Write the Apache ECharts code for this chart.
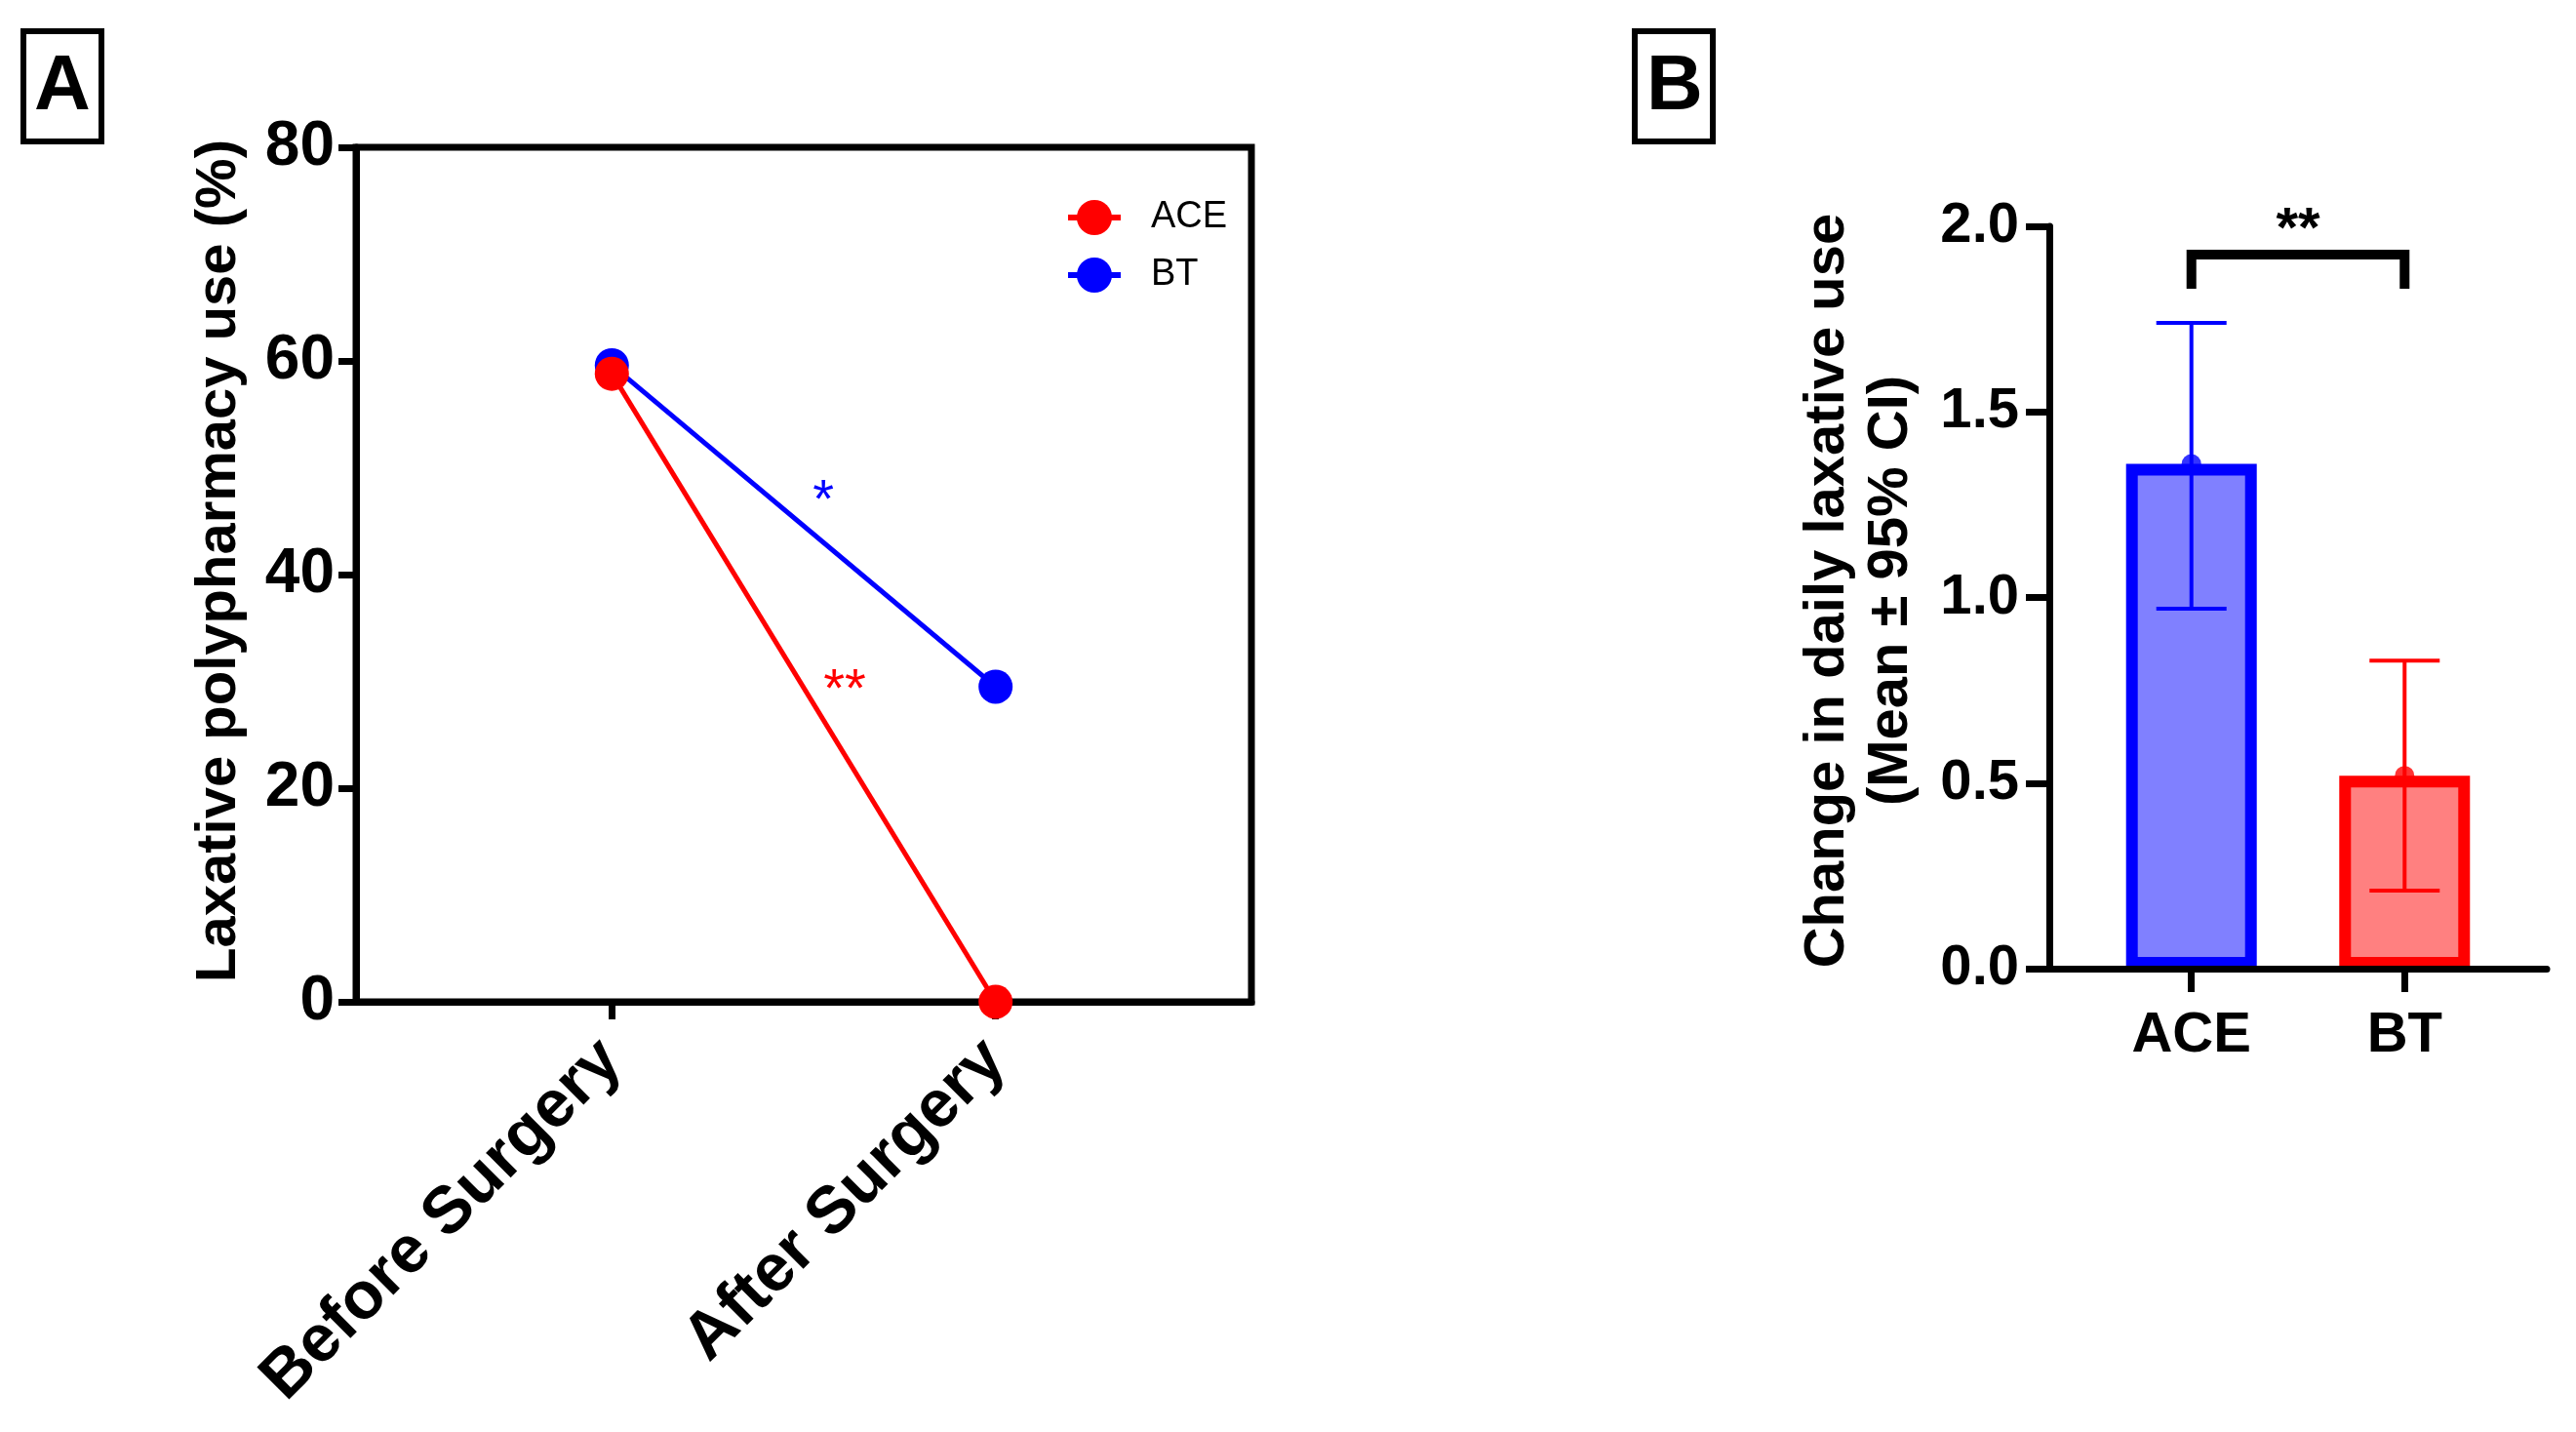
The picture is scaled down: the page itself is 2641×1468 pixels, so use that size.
<!DOCTYPE html>
<html>
<head>
<meta charset="utf-8">
<script src="https://cdn.jsdelivr.net/npm/echarts@6/dist/echarts.min.js"></script>
<style>
html, body { margin: 0; padding: 0; background: #fff; }
#main { width: 2641px; height: 1468px; }
</style>
</head>
<body>
<div id="main"></div>
<script>
var FONT = "'Liberation Sans', Arial, sans-serif";

// panel A: laxative polypharmacy use (%)
var stageNames = ['Before Surgery', 'After Surgery'];
var aceUse = [58.8, 0];
var btUse = [59.6, 29.5];
var stageTicks = [0, 1];
var sigA = [
  { text: '*', x: 0.551, y: 46.8, color: '#0000ff' },
  { text: '**', x: 0.607, y: 29.1, color: '#ff0000' }
];

// panel B: change in daily laxative use (mean, 95% CI)
var groupNames = ['ACE', 'BT'];
var changeMean = [1.36, 0.52];
var ciLower = [0.97, 0.21];
var ciUpper = [1.74, 0.83];
var groupTicks = [0, 1];
var sigB = { from: 0, to: 1, top: 1.924, leg: 1.832, text: '**', textY: 1.987 };

var lineColors = ['#ff0000', '#0000ff'];
var fillColors = ['#8080ff', '#ff8080'];
var edgeColors = ['#0000ff', '#ff0000'];

var chart = echarts.init(document.getElementById('main'));

function boldText(size) {
  return { color: '#000', fontFamily: FONT, fontWeight: 'bold', fontSize: size };
}

var option = {
  animation: false,
  backgroundColor: '#fff',
  textStyle: { fontFamily: FONT },
  legend: {
    data: ['ACE', 'BT'],
    orient: 'vertical',
    left: 1092,
    top: 204,
    padding: 0,
    itemWidth: 54,
    itemHeight: 45,
    itemGap: 21,
    lineStyle: { width: 6 },
    textStyle: { color: '#000', fontSize: 38, fontFamily: FONT, padding: [0, 0, 0, 26] }
  },
  grid: [
    { left: 365, top: 151, width: 918, height: 876, show: true,
      borderColor: '#000', borderWidth: 7, containLabel: false },
    { left: 2101, top: 232, width: 510, height: 761, containLabel: false }
  ],
  xAxis: [
    {
      gridIndex: 0, type: 'value', min: -2 / 3, max: 5 / 3,
      splitLine: { show: false },
      axisLine: { lineStyle: { color: '#000', width: 7 } },
      axisTick: { customValues: stageTicks, length: 18, lineStyle: { color: '#000', width: 7 } },
      axisLabel: Object.assign(boldText(68), {
        customValues: stageTicks, rotate: 45, margin: 50,
        formatter: function (v) { return stageNames[Math.round(v)]; }
      })
    },
    {
      gridIndex: 1, type: 'value', min: -2 / 3, max: 5 / 3, z: 3,
      splitLine: { show: false },
      axisLine: { lineStyle: { color: '#000', width: 7 } },
      axisTick: { customValues: groupTicks, length: 24, lineStyle: { color: '#000', width: 7 } },
      axisLabel: Object.assign(boldText(58), {
        customValues: groupTicks, margin: 40,
        formatter: function (v) { return groupNames[Math.round(v)]; }
      })
    }
  ],
  yAxis: [
    {
      gridIndex: 0, type: 'value', min: 0, max: 80, interval: 20,
      splitLine: { show: false },
      axisLine: { show: true, onZero: false, lineStyle: { color: '#000', width: 7 } },
      axisTick: { show: true, length: 18, lineStyle: { color: '#000', width: 7 } },
      axisLabel: Object.assign(boldText(64), { margin: 22 }),
      name: 'Laxative polypharmacy use (%)',
      nameLocation: 'middle',
      nameRotate: 90,
      nameGap: 111,
      nameTextStyle: Object.assign(boldText(58), { padding: [0, 0, 0, 28] })
    },
    {
      gridIndex: 1, type: 'value', min: 0, max: 2, interval: 0.5,
      splitLine: { show: false },
      axisLine: { show: true, onZero: false, lineStyle: { color: '#000', width: 7 } },
      axisTick: { show: true, length: 24, lineStyle: { color: '#000', width: 7 } },
      axisLabel: Object.assign(boldText(58), {
        margin: 31,
        formatter: function (v) { return v.toFixed(1); }
      }),
      name: 'Change in daily laxative use\n(Mean ± 95% CI)',
      nameLocation: 'middle',
      nameRotate: 90,
      nameGap: 130,
      nameTextStyle: Object.assign(boldText(58), { lineHeight: 65, align: 'center', padding: [0, 0, 0, 14] })
    }
  ],
  series: [
    {
      name: 'BT', type: 'line', xAxisIndex: 0, yAxisIndex: 0, clip: false,
      data: btUse.map(function (v, i) { return [i, v]; }),
      symbol: 'circle', symbolSize: 35,
      itemStyle: { color: lineColors[1] },
      lineStyle: { color: lineColors[1], width: 5 }
    },
    {
      name: 'ACE', type: 'line', xAxisIndex: 0, yAxisIndex: 0, clip: false,
      data: aceUse.map(function (v, i) { return [i, v]; }),
      symbol: 'circle', symbolSize: 35,
      itemStyle: { color: lineColors[0] },
      lineStyle: { color: lineColors[0], width: 5 }
    },
    {
      type: 'custom', xAxisIndex: 0, yAxisIndex: 0, silent: true,
      data: sigA.map(function (s) { return [s.x, s.y]; }),
      renderItem: function (params, api) {
        var p = api.coord([api.value(0), api.value(1)]);
        var s = sigA[params.dataIndex];
        return {
          type: 'text', x: p[0], y: p[1],
          style: { text: s.text, fill: s.color, fontSize: 56, fontFamily: FONT,
                   align: 'center', verticalAlign: 'middle' }
        };
      }
    },
    {
      type: 'bar', xAxisIndex: 1, yAxisIndex: 1, barWidth: 134,
      data: groupNames.map(function (n, i) {
        return {
          value: [i, changeMean[i]],
          itemStyle: { color: fillColors[i], borderColor: edgeColors[i], borderWidth: 12 }
        };
      })
    },
    {
      type: 'custom', xAxisIndex: 1, yAxisIndex: 1, silent: true, z: 4,
      data: groupNames.map(function (n, i) { return [i, ciLower[i], ciUpper[i]]; }),
      renderItem: function (params, api) {
        var x = api.value(0);
        var lo = api.coord([x, api.value(1)]);
        var hi = api.coord([x, api.value(2)]);
        var st = { stroke: edgeColors[params.dataIndex], lineWidth: 4, fill: null };
        var cap = 36;
        return {
          type: 'group',
          children: [
            { type: 'line', shape: { x1: lo[0], y1: lo[1], x2: hi[0], y2: hi[1] }, style: st },
            { type: 'line', shape: { x1: lo[0] - cap, y1: lo[1], x2: lo[0] + cap, y2: lo[1] }, style: st },
            { type: 'line', shape: { x1: hi[0] - cap, y1: hi[1], x2: hi[0] + cap, y2: hi[1] }, style: st }
          ]
        };
      }
    },
    {
      type: 'scatter', xAxisIndex: 1, yAxisIndex: 1, z: 4,
      symbol: 'circle', symbolSize: 20,
      data: groupNames.map(function (n, i) {
        return { value: [i, changeMean[i]], itemStyle: { color: edgeColors[i] } };
      })
    },
    {
      type: 'custom', xAxisIndex: 1, yAxisIndex: 1, silent: true,
      data: [[sigB.from, sigB.to, sigB.top, sigB.leg, sigB.textY]],
      renderItem: function (params, api) {
        var a = api.coord([api.value(0), api.value(3)]);
        var b = api.coord([api.value(0), api.value(2)]);
        var c = api.coord([api.value(1), api.value(2)]);
        var d = api.coord([api.value(1), api.value(3)]);
        var t = api.coord([(api.value(0) + api.value(1)) / 2, api.value(4)]);
        return {
          type: 'group',
          children: [
            { type: 'polyline', shape: { points: [a, b, c, d] },
              style: { stroke: '#000', lineWidth: 10, fill: null, lineJoin: 'miter' } },
            { type: 'text', x: t[0], y: t[1],
              style: { text: sigB.text, fill: '#000', fontSize: 58, fontWeight: 'bold',
                       fontFamily: FONT, align: 'center', verticalAlign: 'middle' } }
          ]
        };
      }
    }
  ],
  graphic: [
    { type: 'rect', shape: { x: 24, y: 32, width: 80, height: 113 },
      style: { fill: 'none', stroke: '#000', lineWidth: 6 } },
    { type: 'text', x: 64, y: 90,
      style: { text: 'A', fill: '#000', fontSize: 80, fontWeight: 'bold', fontFamily: FONT,
               align: 'center', verticalAlign: 'middle' } },
    { type: 'rect', shape: { x: 1676, y: 32, width: 80, height: 113 },
      style: { fill: 'none', stroke: '#000', lineWidth: 6 } },
    { type: 'text', x: 1717, y: 90,
      style: { text: 'B', fill: '#000', fontSize: 80, fontWeight: 'bold', fontFamily: FONT,
               align: 'center', verticalAlign: 'middle' } }
  ]
};

chart.setOption(option);
</script>
</body>
</html>
